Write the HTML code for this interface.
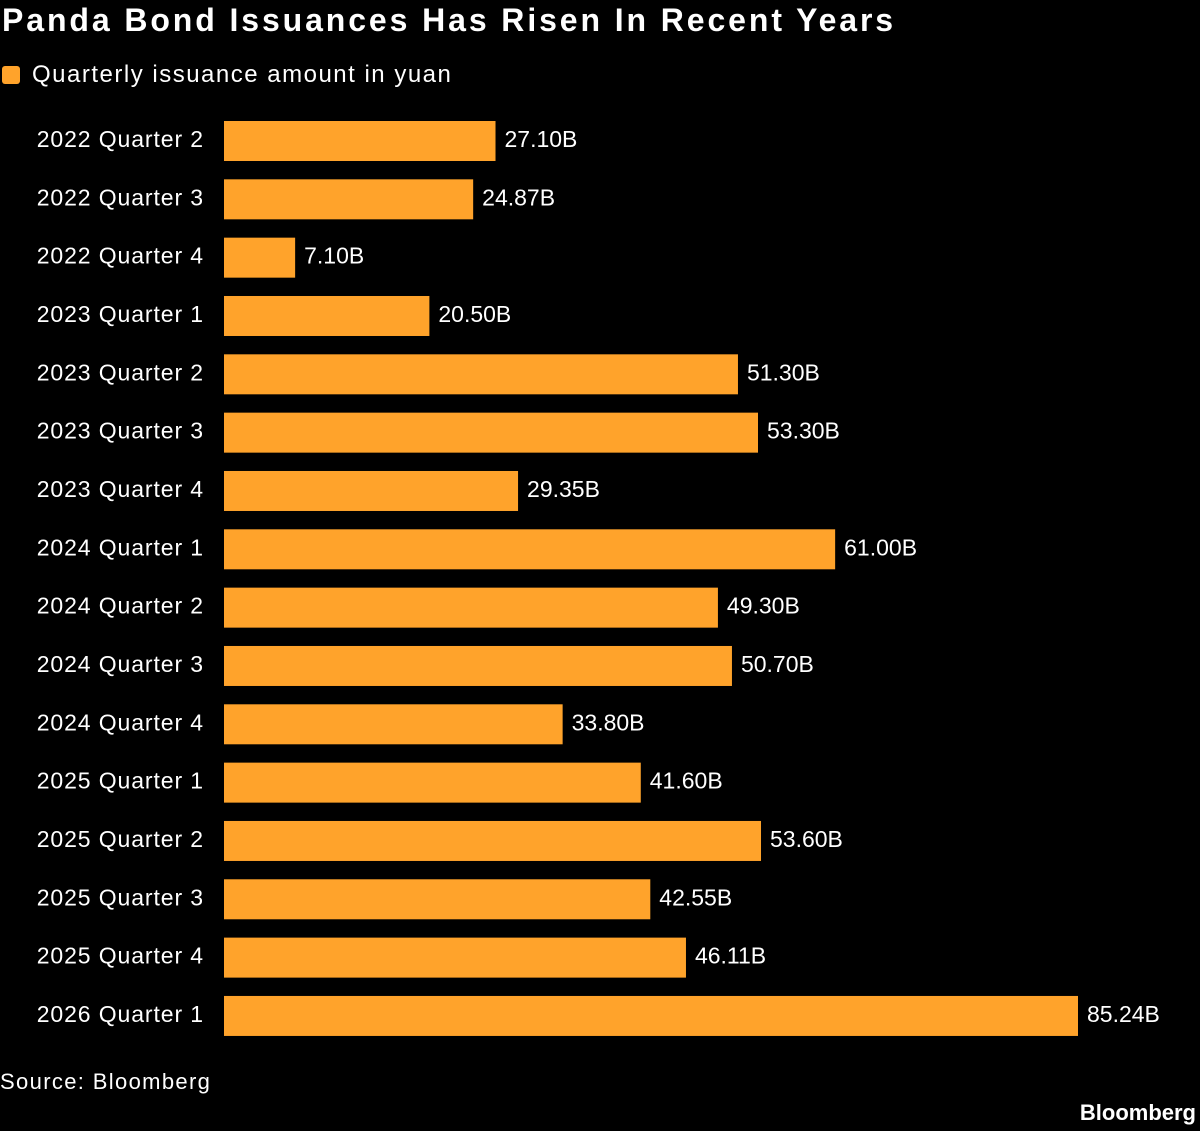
<!DOCTYPE html>
<html><head><meta charset="utf-8">
<style>
html,body{margin:0;padding:0;background:#000;}
body{width:1200px;height:1131px;position:relative;overflow:hidden;font-family:"Liberation Sans",sans-serif;color:#fff;}
#title{position:absolute;left:2px;top:2px;font-size:32px;font-weight:bold;letter-spacing:2.9px;white-space:nowrap;}
#legend{position:absolute;left:2px;top:61px;font-size:24px;letter-spacing:1.5px;white-space:nowrap;display:flex;align-items:center;}
#legend .sw{width:18px;height:18px;background:#FFA32B;border-radius:3px;margin-right:12px;}
#source{position:absolute;left:0;top:1069px;font-size:22px;letter-spacing:1.35px;}
#brand{position:absolute;right:4px;top:1100px;font-size:22px;font-weight:bold;}
svg{position:absolute;left:0;top:0;}
</style></head><body>
<div id="title">Panda Bond Issuances Has Risen In Recent Years</div>
<div id="legend"><div class="sw"></div><span>Quarterly issuance amount in yuan</span></div>
<svg id="chart" width="1200" height="1131"></svg>
<div id="source">Source: Bloomberg</div>
<div id="brand">Bloomberg</div>
<script>
const categories = ["2022 Quarter 2","2022 Quarter 3","2022 Quarter 4","2023 Quarter 1","2023 Quarter 2","2023 Quarter 3","2023 Quarter 4","2024 Quarter 1","2024 Quarter 2","2024 Quarter 3","2024 Quarter 4","2025 Quarter 1","2025 Quarter 2","2025 Quarter 3","2025 Quarter 4","2026 Quarter 1"];
const values = [27.10,24.87,7.10,20.50,51.30,53.30,29.35,61.00,49.30,50.70,33.80,41.60,53.60,42.55,46.11,85.24];
const valueLabels = ["27.10B","24.87B","7.10B","20.50B","51.30B","53.30B","29.35B","61.00B","49.30B","50.70B","33.80B","41.60B","53.60B","42.55B","46.11B","85.24B"];

const NS="http://www.w3.org/2000/svg";
const svg=document.getElementById('chart');
const x0=224, xMaxPx=1078, xMaxVal=85.24;
const xScale=v=>x0+(v/xMaxVal)*(xMaxPx-x0);
const rowTop=121, rowStep=58.33, barH=40;
const yScale=i=>rowTop+i*rowStep;
categories.forEach((c,i)=>{
  const y=yScale(i);
  const r=document.createElementNS(NS,'rect');
  r.setAttribute('x',x0);r.setAttribute('y',y);
  r.setAttribute('width',xScale(values[i])-x0);r.setAttribute('height',barH);
  r.setAttribute('fill','#FFA32B');
  
  
  svg.appendChild(r);
  const t=document.createElementNS(NS,'text');
  t.setAttribute('x',204);t.setAttribute('y',y+barH/2+6);
  t.setAttribute('text-anchor','end');t.setAttribute('fill','#fff');
  t.setAttribute('font-size','23');t.setAttribute('font-family','Liberation Sans, sans-serif');
  t.setAttribute('letter-spacing','0.9');
  t.textContent=c;
  
  
  svg.appendChild(t);
  const v=document.createElementNS(NS,'text');
  v.setAttribute('x',xScale(values[i])+9);v.setAttribute('y',y+barH/2+6);
  v.setAttribute('fill','#fff');
  v.setAttribute('font-size','23');v.setAttribute('font-family','Liberation Sans, sans-serif');
  v.textContent=valueLabels[i];
  
  
  svg.appendChild(v);
});
</script>
</body></html>
